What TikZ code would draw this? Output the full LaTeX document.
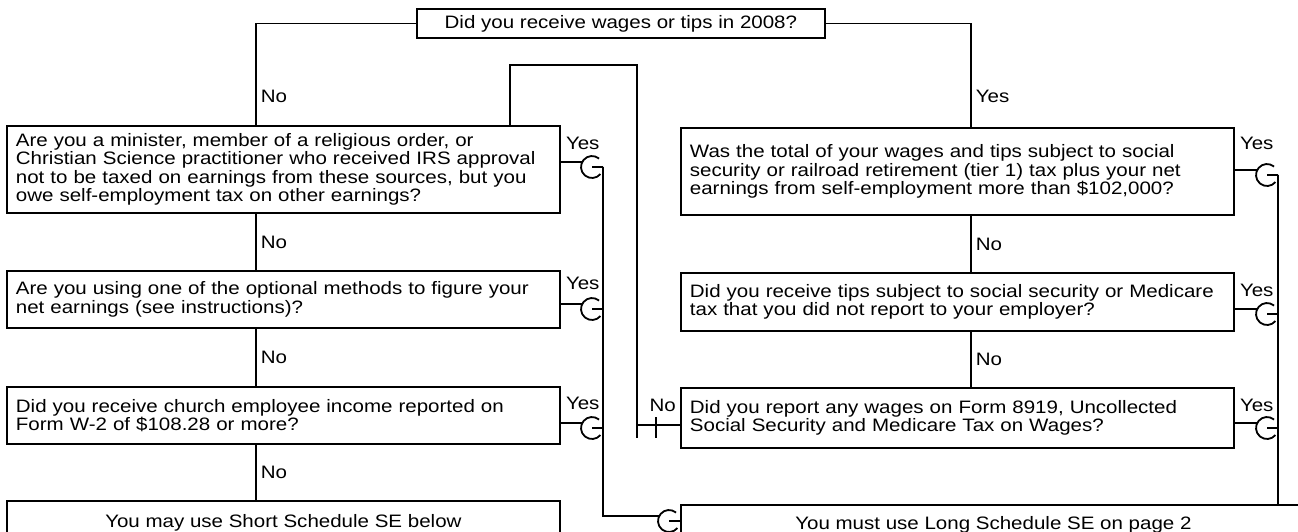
\documentclass[tikz,border=0pt]{standalone}
\usepackage{fontspec}
\setmainfont{Liberation Sans}[FakeStretch=1.14]
\usetikzlibrary{positioning}
\newcommand\boxfont{\fontsize{18pt}{18.3pt}\selectfont}
\tikzset{
  link/.style={line width=1.8pt},
  qbox/.style={draw, line width=1.8pt, anchor=north west, text width=535pt,
    inner xsep=9pt, inner ysep=0pt, align=left, font=\boxfont},
  endbox/.style={draw, line width=1.8pt, anchor=north west, inner sep=0pt,
    align=center, font=\boxfont},
  ans/.style={font=\boxfont, inner xsep=4pt, inner ysep=0pt, anchor=west},
  pics/hop/.style={code={
    \draw[link] (50:11pt) arc[start angle=50, end angle=320, radius=11pt]
      (0,0) -- (11pt,0);
    \coordinate (-in) at (155:11pt);
    \coordinate (-out) at (11pt,0);
  }}
}

\begin{document}
\begin{tikzpicture}[x=1pt,y=-1pt]
\clip (0,0) rectangle (1298,531);

\node[endbox, minimum width=408pt, minimum height=29pt] (top) at (416,8)
  {Did you receive wages or tips in 2008?};

% left column
\node[qbox, minimum height=87pt] (qL1) at (6,125)
  {Are you a minister, member of a religious order, or\\
   Christian Science practitioner who received IRS approval\\
   not to be taxed on earnings from these sources, but you\\
   owe self-employment tax on other earnings?};
\node[qbox, minimum height=57pt] (qL2) at (6,270)
  {Are you using one of the optional methods to figure your\\
   net earnings (see instructions)?};
\node[qbox, minimum height=57pt] (qL3) at (6,386)
  {Did you receive church employee income reported on\\
   Form W-2 of \$108.28 or more?};
\node[endbox, minimum width=553pt, minimum height=44pt] (sShort) at (6,500)
  {You may use Short Schedule SE below};

% right column
\node[qbox, minimum height=87pt] (qR1) at (680,127)
  {Was the total of your wages and tips subject to social\\
   security or railroad retirement (tier 1) tax plus your net\\
   earnings from self-employment more than \$102,000?};
\node[qbox, minimum height=58pt] (qR2) at (680,272)
  {Did you receive tips subject to social security or Medicare\\
   tax that you did not report to your employer?};
\node[qbox, minimum height=60pt] (qR3) at (680,387)
  {Did you report any wages on Form 8919, Uncollected\\
   Social Security and Medicare Tax on Wages?};
\node[endbox, minimum width=625pt, minimum height=40pt] (sLong) at (680,504)
  {You must use Long Schedule SE on page 2};

% No / Yes paths down the columns
\coordinate (colL) at (256,0);
\coordinate (colR) at (971,0);
\draw[link] (top.west) -| (colL |- qL1.north) node[ans, pos=0.86] (nTop) {No};
\draw[link] (top.east) -| (colR |- qR1.north) node[ans, pos=0.85] (yTop) {Yes};
\foreach \a/\b/\n in {qL1/qL2/nL1, qL2/qL3/nL2, qL3/sShort/nL3}
  \draw[link] (colL |- \a.south) -- (colL |- \b.north) node[ans, midway] (\n) {No};
\foreach \a/\b/\n in {qR1/qR2/nR1, qR2/qR3/nR2}
  \draw[link] (colR |- \a.south) -- (colR |- \b.north) node[ans, midway] (\n) {No};

% Yes answers into the trunks
\foreach \j/\x/\y/\t in {L1/592/167/143, L2/592/309/283, L3/592/428/403,
                         R1/1267/175/143, R2/1267/314/290, R3/1267/428/405} {
  \pic (j\j) at (\x,\y) {hop};
  \draw[link] (q\j.east |- j\j-in) -- (j\j-in);
  \node[ans] (y\j) at ([xshift=1pt]q\j.east |- 0,\t) {Yes};
}
\pic (jLong) at (669,521) {hop};
\draw[link] (jL1-out) -- (jL1-out |- jLong-in) -- (jLong-in);
\draw[link] (jR1-out) -- (jR1-out |- sLong.north);

% No from Form 8919 back to the minister question
\coordinate (loopT) at (637,65);
\coordinate (loopL) at (510,65);
\node[ans, anchor=east] (nR3) at (qR3.west |- 0,405) {No};
\draw[link] ([yshift=-7pt]qR3.west) -| (loopT) -- (loopL) -- (loopL |- qL1.north);
\draw[link] (loopT |- 0,424) -- (loopT |- 0,438);
\draw[link] (656,417) -- (656,438);
\end{tikzpicture}
\end{document}
